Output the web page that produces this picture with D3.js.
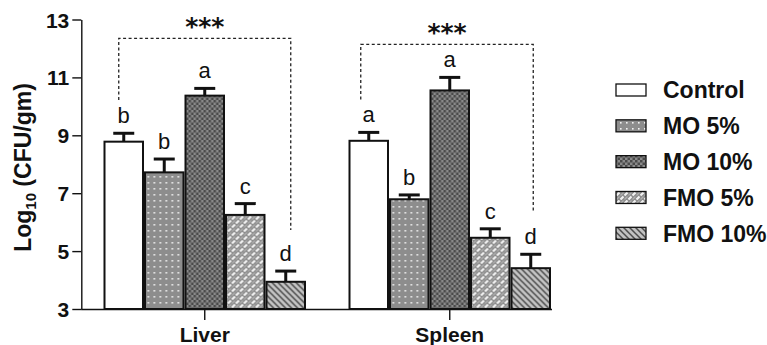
<!DOCTYPE html>
<html>
<head>
<meta charset="utf-8">
<script src="https://cdn.jsdelivr.net/npm/d3@7"></script>
<style>
  html, body { margin: 0; padding: 0; background: #fff; }
  svg { display: block; font-family: "Liberation Sans", Arial, Helvetica, sans-serif; }
</style>
</head>
<body>
<svg id="chart" width="767" height="345"></svg>
<script>
// ---- data ----
const organs = ["Liver", "Spleen"];
const groups = ["Control", "MO 5%", "MO 10%", "FMO 5%", "FMO 10%"];
const liverMeans = [8.78, 7.72, 10.37, 6.25, 3.94];
const liverErrTop = [9.07, 8.18, 10.62, 6.64, 4.31];
const spleenMeans = [8.81, 6.79, 10.55, 5.46, 4.41];
const spleenErrTop = [9.10, 6.94, 11.00, 5.77, 4.89];
const liverLetters = ["b", "b", "a", "c", "d"];
const spleenLetters = ["a", "b", "a", "c", "d"];
const yTicks = [3, 5, 7, 9, 11, 13];
// significance brackets: [top, left-leg bottom, right-leg bottom]
const bracketTop = [12.35, 12.14];
const bracketLeftEnd = [10.22, 10.24];
const bracketRightEnd = [5.73, 6.40];
const sigLabel = ["***", "***"];

const meansBy = [liverMeans, spleenMeans];
const errBy = [liverErrTop, spleenErrTop];
const lettersBy = [liverLetters, spleenLetters];

const svg = d3.select("#chart");
const defs = svg.append("defs");

// ---- patterns ----
function pat(id, w, h) {
  return defs.append("pattern").attr("id", id).attr("patternUnits", "userSpaceOnUse")
    .attr("width", w).attr("height", h);
}
// MO 5%: gray with white dots
{
  const p = pat("pMO5", 6, 6);
  p.append("rect").attr("width", 6).attr("height", 6).attr("fill", "#8d8d8d");
  p.append("rect").attr("x", 2).attr("y", 2).attr("width", 1.6).attr("height", 1.6).attr("fill", "#f2f2f2");
}
// MO 10%: dark checkerboard
{
  const p = pat("pMO10", 5, 5);
  p.append("rect").attr("width", 5).attr("height", 5).attr("fill", "#8a8a8a");
  p.append("rect").attr("width", 2.5).attr("height", 2.5).attr("fill", "#4a4a4a");
  p.append("rect").attr("x", 2.5).attr("y", 2.5).attr("width", 2.5).attr("height", 2.5).attr("fill", "#4a4a4a");
}
// FMO 5%: gray with white slanted dashes (brick)
{
  const p = pat("pFMO5", 8, 8);
  p.append("rect").attr("width", 8).attr("height", 8).attr("fill", "#8c8c8c");
  p.append("path").attr("d", "M0.5,3.5 L3.5,0.5 M4.5,7.5 L7.5,4.5 M-1,9 L0,8 M8,0 L9,-1")
    .attr("stroke", "#f2f2f2").attr("stroke-width", 2.2).attr("fill", "none");
  p.append("path").attr("d", "M4.5,3.5 L7.5,0.5 M0.5,7.5 L3.5,4.5")
    .attr("stroke", "#b0b0b0").attr("stroke-width", 1.2).attr("fill", "none");
}
// FMO 10%: light gray with dark back-slash lines
{
  const p = pat("pFMO10", 6, 6);
  p.append("rect").attr("width", 6).attr("height", 6).attr("fill", "#c2c2c2");
  p.append("path").attr("d", "M0,0 L6,6 M-1,5 L1,7 M5,-1 L7,1")
    .attr("stroke", "#4d4d4d").attr("stroke-width", 1.5).attr("fill", "none");
}
const fills = ["#ffffff", "url(#pMO5)", "url(#pMO10)", "url(#pFMO5)", "url(#pFMO10)"];

// ---- scales ----
const axisLeftX = 81.3, axisRightX = 552;
const y = d3.scaleLinear().domain([3, 13]).range([309, 19.5]);
const x0 = d3.scaleBand().domain(organs).range([103.5, 551]).paddingInner(0.1735).paddingOuter(0);
const x1 = d3.scaleBand().domain(groups).range([0, x0.bandwidth()]).padding(0);

const ink = "#111";

// ---- bars ----
organs.forEach((org, oi) => {
  const g = svg.append("g").attr("transform", `translate(${x0(org)},0)`);
  groups.forEach((grp, gi) => {
    const v = meansBy[oi][gi];
    const e = errBy[oi][gi];
    const bx = x1(grp), bw = x1.bandwidth();
    g.append("rect")
      .attr("x", bx + 1).attr("y", y(v))
      .attr("width", bw - 2).attr("height", y(3) - y(v))
      .attr("fill", fills[gi]).attr("stroke", ink).attr("stroke-width", 2);
    const cx = bx + bw / 2;
    g.append("line").attr("x1", cx).attr("x2", cx).attr("y1", y(v)).attr("y2", y(e))
      .attr("stroke", ink).attr("stroke-width", 3);
    g.append("line").attr("x1", cx - 10.5).attr("x2", cx + 10.5).attr("y1", y(e)).attr("y2", y(e))
      .attr("stroke", ink).attr("stroke-width", 3);
    g.append("text").attr("x", cx).attr("y", y(e) - 10)
      .attr("text-anchor", "middle").attr("font-size", 22).attr("fill", ink)
      .text(lettersBy[oi][gi]);
  });
});

// ---- brackets ----
const legOffsetL = [-5, -8], legOffsetR = [5, 2.5];
organs.forEach((org, oi) => {
  const xl = x0(org) + x1(groups[0]) + x1.bandwidth() / 2 + legOffsetL[oi];
  const xr = x0(org) + x1(groups[4]) + x1.bandwidth() / 2 + legOffsetR[oi];
  const yt = y(bracketTop[oi]);
  svg.append("path")
    .attr("d", `M${xl},${y(bracketLeftEnd[oi])} V${yt} H${xr} V${y(bracketRightEnd[oi])}`)
    .attr("fill", "none").attr("stroke", "#222").attr("stroke-width", 1.3)
    .attr("stroke-dasharray", "3,2.5");
  svg.append("text").attr("x", (xl + xr) / 2).attr("y", yt - 3.5)
    .attr("text-anchor", "middle").attr("font-size", 25).attr("font-weight", "bold")
    .attr("font-family", "'DejaVu Sans', sans-serif")
    .attr("fill", ink).text(sigLabel[oi]);
});

// ---- axes ----
const yAxis = svg.append("g").attr("transform", `translate(${axisLeftX},0)`)
  .call(d3.axisLeft(y).tickValues(yTicks).tickSize(9).tickSizeOuter(0).tickPadding(3));
yAxis.select(".domain").attr("stroke", ink).attr("stroke-width", 1.4);
yAxis.selectAll(".tick line").attr("stroke", ink).attr("stroke-width", 1.4);
yAxis.selectAll(".tick text").attr("font-size", 21).attr("font-weight", "bold")
  .attr("fill", ink).attr("font-family", null).attr("dy", "0.36em");

const xAxis = svg.append("g").attr("transform", `translate(0,${y(3)})`)
  .call(d3.axisBottom(x0).tickSize(11).tickSizeOuter(0).tickPadding(7));
xAxis.select(".domain").attr("d", `M${axisLeftX},0.5H${axisRightX}`)
  .attr("stroke", ink).attr("stroke-width", 1.5);
xAxis.selectAll(".tick line").attr("stroke", ink).attr("stroke-width", 1.4);
xAxis.selectAll(".tick text").attr("font-size", 21).attr("font-weight", "bold")
  .attr("fill", ink).attr("font-family", null);

// y title
const yt = svg.append("text")
  .attr("transform", `translate(31,167.5) rotate(-90)`)
  .attr("text-anchor", "middle").attr("font-size", 23).attr("font-weight", "bold").attr("fill", ink);
yt.append("tspan").text("Log");
yt.append("tspan").attr("font-size", 15).attr("dy", 5).text("10");
yt.append("tspan").attr("dy", -5).text(" (CFU/gm)");

// ---- legend ----
const legY = d3.scalePoint().domain(groups).range([90, 233.3]);
const leg = svg.append("g");
groups.forEach((grp, gi) => {
  const cy = legY(grp);
  leg.append("rect").attr("x", 616).attr("y", cy - 6).attr("width", 30).attr("height", 12)
    .attr("fill", fills[gi]).attr("stroke", ink).attr("stroke-width", 1.3);
  leg.append("text").attr("x", 663).attr("y", cy).attr("dy", "0.36em")
    .attr("font-size", 23).attr("font-weight", "bold").attr("fill", ink).text(grp);
});
</script>
</body>
</html>
